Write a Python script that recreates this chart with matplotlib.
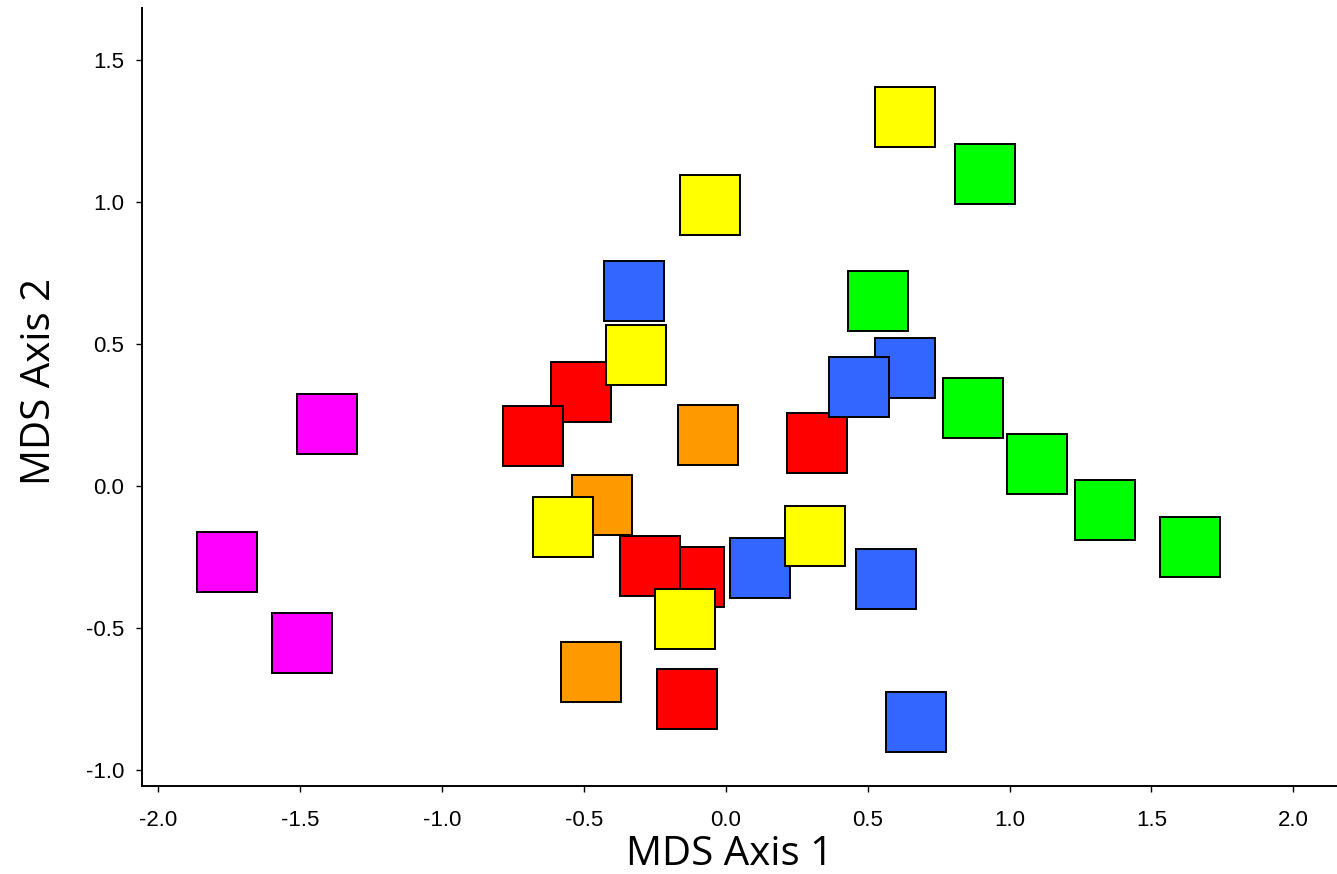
import matplotlib
matplotlib.use("Agg")
import matplotlib.pyplot as plt

# MDS coordinates per group (drawing order matters for overlaps)
magenta_x = [-1.404, -1.758, -1.492]
magenta_y = [0.218, -0.266, -0.551]

red_x = [-0.509, -0.679, 0.321, -0.112, -0.267, -0.137]
red_y = [0.331, 0.176, 0.153, -0.320, -0.283, -0.750]

orange_x = [-0.064, -0.435, -0.475]
orange_y = [0.178, -0.065, -0.655]

green_x = [0.912, 0.535, 0.873, 1.097, 1.335, 1.636]
green_y = [1.100, 0.650, 0.276, 0.076, -0.086, -0.215]

blue_x = [-0.322, 0.630, 0.469, 0.121, 0.565, 0.669]
blue_y = [0.688, 0.414, 0.350, -0.290, -0.329, -0.829]

yellow_x = [0.630, -0.057, -0.315, -0.574, 0.314, -0.144]
yellow_y = [1.301, 0.988, 0.463, -0.144, -0.176, -0.467]

groups = [
    (magenta_x, magenta_y, "#FF00FF"),
    (red_x, red_y, "#FF0000"),
    (orange_x, orange_y, "#FF9900"),
    (green_x, green_y, "#00FF00"),
    (blue_x, blue_y, "#3366FF"),
    (yellow_x, yellow_y, "#FFFF00"),
]

ticks = [-2.0, -1.5, -1.0, -0.5, 0.0, 0.5, 1.0, 1.5, 2.0]
yticks = [-1.0, -0.5, 0.0, 0.5, 1.0, 1.5]

fig = plt.figure(figsize=(13.37, 8.74), dpi=100)
ax = fig.add_axes([141.7 / 1337, (874 - 786) / 874, 1 - 141.7 / 1337, 778 / 874])

for xs, ys, col in groups:
    for x, y in zip(xs, ys):
        ax.plot(x, y, marker="s", markersize=43.5, markerfacecolor=col,
                markeredgecolor="black", markeredgewidth=1.4, linestyle="none")

ax.set_xlim(-2.058, 2.154)
ax.set_ylim(-1.056, 1.683)
ax.set_xticks(ticks)
ax.set_xticklabels([f"{t:.1f}" for t in ticks])
ax.set_yticks(yticks)
ax.set_yticklabels([f"{t:.1f}" for t in yticks])

for side in ["top", "right"]:
    ax.spines[side].set_visible(False)
for side in ["left", "bottom"]:
    ax.spines[side].set_linewidth(1.4)

ax.tick_params(axis="both", direction="out", length=4.5, width=1.0,
               labelsize=16, colors="black")
ax.tick_params(axis="x", pad=13)
ax.tick_params(axis="y", pad=8)
for lab in ax.get_xticklabels() + ax.get_yticklabels():
    lab.set_fontfamily("Liberation Sans")

ax.set_xlabel("MDS Axis 1", fontsize=29, family="Open Sans")
ax.set_ylabel("MDS Axis 2", fontsize=29, family="Open Sans")
ax.xaxis.set_label_coords(0.492, -0.062)
ax.yaxis.set_label_coords(-0.068, 0.52)

fig.savefig("out.png", dpi=100)
